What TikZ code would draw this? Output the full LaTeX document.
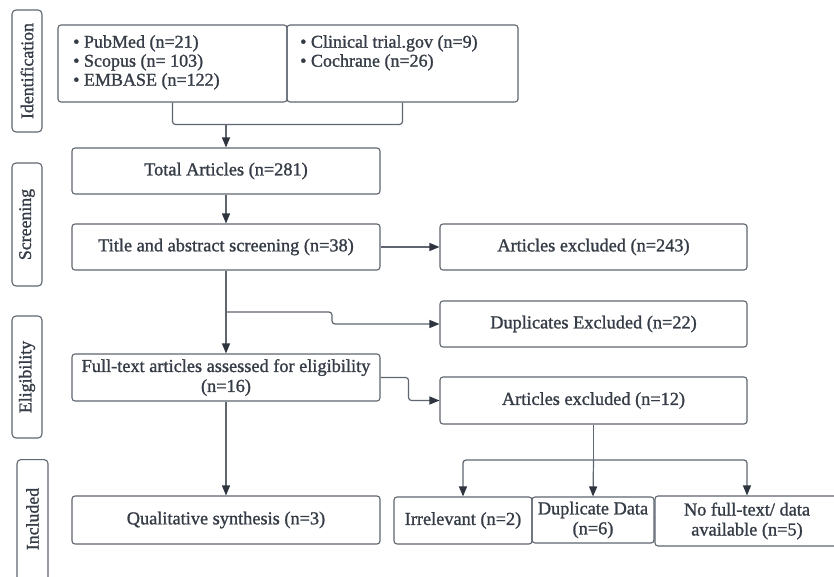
\documentclass[tikz,border=0pt]{standalone}
\usepackage{fontspec}
\setmainfont{Liberation Serif}[FakeBold=1.2]
\usetikzlibrary{arrows.meta}
\definecolor{linec}{HTML}{5F6670}
\definecolor{textc}{HTML}{353C46}
\definecolor{tipc}{HTML}{2F353E}
\tikzset{
  box/.style={draw=linec, line width=1.1pt, rounded corners=3pt, text=textc, align=center,
    inner sep=0pt, font=\fontsize{18.3}{20}\selectfont},
  lbl/.style={draw=linec, line width=1.1pt, rounded corners=4pt, text=textc, inner sep=0pt},
  ltxt/.style={text=textc, font=\fontsize{17.8}{19}\selectfont, rotate=90},
  ltext/.style={text=textc, align=left, anchor=north west, inner sep=0pt, font=\fontsize{18}{19}\selectfont},
  conn/.style={draw=linec, line width=1.2pt, rounded corners=3pt},
  arr/.style={conn, -{Triangle[length=10pt,width=8pt,color=tipc]}},
}
\begin{document}
\begin{tikzpicture}[x=1pt,y=-1pt]
\useasboundingbox[fill=white] (0,0) rectangle (834,577);
% stage labels
\node[lbl, minimum width=30pt, minimum height=122pt] (lid) at (27,71) {};
\node[ltxt] (tid) at (lid.center) {Identification};
\node[lbl, minimum width=30pt, minimum height=123pt] (lsc) at (27,224.5) {};
\node[ltxt] (tsc) at (lsc.center) {Screening};
\node[lbl, minimum width=30pt, minimum height=122pt] (lel) at (27,377) {};
\node[ltxt] (tel) at (lel.center) {Eligibility};
\node[lbl, minimum width=31pt, minimum height=140pt, anchor=north] (lin) at (32.5,459) {};
\node[ltxt] (tin) at (32.5,519) {Included};
% sources
\node[box, minimum width=229pt, minimum height=77pt] (src1) at (172.5,63.5) {};
\node[ltext] (t1) at (73,35)
  {\textbullet{} PubMed (n=21)\\ \textbullet{} Scopus (n= 103)\\ \textbullet{} EMBASE (n=122)};
\node[box, minimum width=231pt, minimum height=77pt] (src2) at (402.5,63.5) {};
\node[ltext] (t2) at (300,35)
  {\textbullet{} Clinical trial.gov (n=9)\\ \textbullet{} Cochrane (n=26)};
% main column
\node[box, minimum width=308pt, minimum height=46pt] (total) at (226,171) {Total Articles (n=281)};
\node[box, minimum width=308pt, minimum height=46pt] (title) at (226,247) {Title and abstract screening (n=38)};
\node[box, minimum width=308pt, minimum height=47pt] (full) at (226,377.5) {Full-text articles assessed for eligibility\\(n=16)};
\node[box, minimum width=308pt, minimum height=48pt] (qual) at (226,520) {Qualitative synthesis (n=3)};
% right column
\node[box, minimum width=307pt, minimum height=46pt] (excl1) at (593.5,247) {Articles excluded (n=243)};
\node[box, minimum width=307pt, minimum height=46pt] (dup) at (593.5,324) {Duplicates Excluded (n=22)};
\node[box, minimum width=307pt, minimum height=47pt] (excl2) at (593.5,400.5) {Articles excluded (n=12)};
% bottom row
\node[box, minimum width=138pt, minimum height=47pt] (irr) at (463,520.5) {Irrelevant (n=2)};
\node[box, minimum width=122pt, minimum height=46pt] (dd) at (593,520) {Duplicate Data\\(n=6)};
\node[box, minimum width=184pt, minimum height=50pt] (nft) at (747,521) {No full-text/ data\\available (n=5)};
% connectors
\coordinate (m) at (226,124.5);
\draw[conn] (src1.south) |- (m) -| (src2.south);
\draw[arr] (m) -- (total.north);
\draw[arr] (total.south) -- (title.north);
\draw[arr] (title.east) -- (excl1.west);
\draw[arr] (title.south) -- (full.north);
\coordinate (b) at (226,312);
\draw[arr] (b) -- (332,312) |- (dup.west);
\draw[arr] (full.east) -- ++(28,0) |- (excl2.west);
\draw[arr] (full.south) -- (qual.north);
\coordinate (s) at (593.5,460);
\draw[conn] (excl2.south) -- (s);
\draw[arr] (s) -| (irr.north);
\draw[arr] (s) -| (nft.north);
\draw[arr] (s) -- (dd.north);
\end{tikzpicture}
\end{document}
